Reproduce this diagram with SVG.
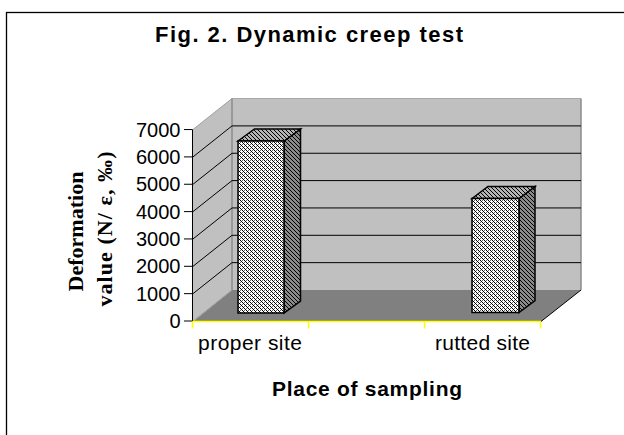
<svg xmlns="http://www.w3.org/2000/svg" width="624" height="435" viewBox="0 0 624 435">
<style>
.sans{font-family:"Liberation Sans",Arial,sans-serif;fill:#000}
.tick{font-size:20px;text-anchor:end}
.cat{font-size:21px}
.bold{font-weight:bold}
.serif{font-family:"Liberation Serif","Times New Roman",serif;font-weight:bold;font-size:22px;fill:#000}
.grid{stroke:#000;stroke-width:1;fill:none}
.bar{stroke:#000;stroke-width:1.5;stroke-linejoin:miter}
</style>
<defs>
<pattern id="pFront" width="4" height="4" patternUnits="userSpaceOnUse" shape-rendering="crispEdges">
<rect width="4" height="4" fill="#ffffff"/>
<rect x="0" y="0" width="1" height="1" fill="#000"/><rect x="1" y="1" width="1" height="1" fill="#000"/>
<rect x="2" y="2" width="1" height="1" fill="#000"/><rect x="3" y="3" width="1" height="1" fill="#000"/>
<rect x="2" y="0" width="1" height="1" fill="#666"/><rect x="0" y="2" width="1" height="1" fill="#666"/>
</pattern>
<pattern id="pSide" width="4" height="4" patternUnits="userSpaceOnUse" shape-rendering="crispEdges">
<rect width="4" height="4" fill="#8a8a8a"/>
<rect x="0" y="0" width="1" height="1" fill="#000"/><rect x="1" y="1" width="1" height="1" fill="#000"/>
<rect x="2" y="2" width="1" height="1" fill="#000"/><rect x="3" y="3" width="1" height="1" fill="#000"/>
</pattern>
<pattern id="pTop" width="4" height="4" patternUnits="userSpaceOnUse" shape-rendering="crispEdges">
<rect width="4" height="4" fill="#b4b4b4"/>
<rect x="0" y="0" width="1" height="1" fill="#000"/><rect x="1" y="1" width="1" height="1" fill="#000"/>
<rect x="2" y="2" width="1" height="1" fill="#000"/><rect x="3" y="3" width="1" height="1" fill="#000"/>
</pattern>
</defs>
<rect width="624" height="435" fill="#fff"/>
<rect id="frame" x="6.5" y="12.5" width="640" height="460" fill="none" stroke="#000" stroke-width="1.3"/>

<g id="title"><text class="sans bold" x="155" y="41.5" font-size="22" textLength="308" lengthAdjust="spacing">Fig. 2. Dynamic creep test</text></g>

<g id="plot-walls">
<polygon points="193,321 232,290 232,98.5 193,129.5" fill="#c0c0c0"/>
<rect x="232" y="98.5" width="349" height="191.5" fill="#c0c0c0"/>
<polygon points="193,321.5 232,290 581,290 541,321.5" fill="#808080"/>
<line x1="193" y1="129.5" x2="232" y2="98.5" stroke="#a0a0a0" stroke-width="1"/>
<line x1="232" y1="98.5" x2="581" y2="98.5" stroke="#a8a8a8" stroke-width="1"/>
<line x1="232" y1="98.5" x2="232" y2="290" stroke="#8c8c8c" stroke-width="1.5"/>
<line x1="581" y1="98.5" x2="581" y2="290" stroke="#8c8c8c" stroke-width="1.5"/>
<line x1="193" y1="321" x2="232" y2="290" stroke="#a0a0a0" stroke-width="1"/>
<line x1="541" y1="321.5" x2="581" y2="290" stroke="#000" stroke-width="1"/>
</g>

<g id="gridlines">
<path class="grid" d="M193,293.65 L232,262.65 L581,262.65 M193,266.3 L232,235.3 L581,235.3 M193,238.95 L232,207.95 L581,207.95 M193,211.6 L232,180.6 L581,180.6 M193,184.25 L232,153.25 L581,153.25 M193,156.9 L232,125.9 L581,125.9"/>
</g>

<g id="y-axis">
<line x1="192.5" y1="129.5" x2="192.5" y2="321.5" stroke="#000" stroke-width="1"/>
<path class="grid" d="M184,321 H192.5 M184,293.65 H192.5 M184,266.3 H192.5 M184,238.95 H192.5 M184,211.6 H192.5 M184,184.25 H192.5 M184,156.9 H192.5 M184,129.55 H192.5"/>
<g class="sans tick">
<text x="180.5" y="136.6">7000</text>
<text x="180.5" y="163.9">6000</text>
<text x="180.5" y="191.3">5000</text>
<text x="180.5" y="218.6">4000</text>
<text x="180.5" y="246">3000</text>
<text x="180.5" y="273.3">2000</text>
<text x="180.5" y="300.7">1000</text>
<text x="180.5" y="328">0</text>
</g>
</g>

<g id="x-axis">
<path d="M192.5,321.5 H541 M192.5,321.5 V328.5 M308.5,321.5 V328.5 M424.5,321.5 V328.5 M540.5,321.5 V328.5" stroke="#ffff00" stroke-width="1.5" fill="none"/>
<text class="sans cat" x="198" y="350" textLength="104" lengthAdjust="spacing">proper site</text>
<text class="sans cat" x="435" y="350" textLength="95" lengthAdjust="spacing">rutted site</text>
</g>

<g id="bar-proper-site">
<polygon class="bar" points="284,141 300.5,129 300.5,301 284,313" fill="url(#pSide)"/>
<polygon class="bar" points="238,141 254.5,129 300.5,129 284,141" fill="url(#pTop)"/>
<rect class="bar" x="238" y="141" width="46" height="172" fill="url(#pFront)"/>
</g>

<g id="bar-rutted-site">
<polygon class="bar" points="519,198.5 535,186.5 535,300.5 519,312.5" fill="url(#pSide)"/>
<polygon class="bar" points="472,198.5 488,186.5 535,186.5 519,198.5" fill="url(#pTop)"/>
<rect class="bar" x="472" y="198.5" width="47" height="114" fill="url(#pFront)"/>
</g>

<g id="axis-titles">
<text class="sans bold" x="272" y="396" font-size="21" textLength="190" lengthAdjust="spacing">Place of sampling</text>
<text class="serif" transform="translate(83,291.5) rotate(-90)" textLength="120" lengthAdjust="spacing">Deformation</text>
<text class="serif" transform="translate(111.5,306.5) rotate(-90)" font-size="23" textLength="155" lengthAdjust="spacing">value (N/ ε, ‰)</text>
</g>
</svg>
